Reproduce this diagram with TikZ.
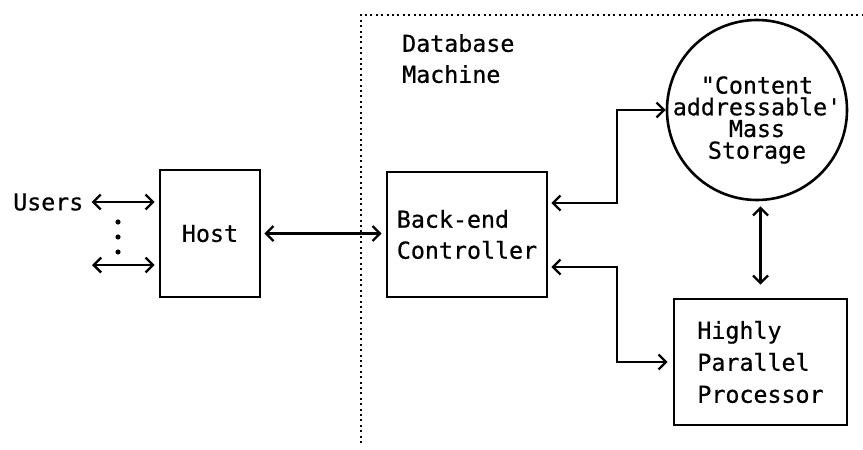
\documentclass[tikz,border=0pt]{standalone}
\usepackage{fontspec}
\setmonofont[FakeBold=0.6]{DejaVu Sans Mono}
\usetikzlibrary{arrows.meta,calc}
\begin{document}
\begin{tikzpicture}[x=1pt,y=-1pt,
  lbl/.style={font=\ttfamily\fontsize{23.3}{31}\selectfont, inner sep=0pt},
  box/.style={draw, line width=2.6pt, inner sep=0pt},
  link/.style={line width=2.4pt, {Straight Barb[length=7.5pt,width=15pt]}-{Straight Barb[length=7.5pt,width=15pt]}},
  frame/.style={line width=2.2pt, dash pattern=on 2pt off 3.4pt}
]
\useasboundingbox (0,0) rectangle (863,450);

% dotted frame of the database machine
\draw[frame] (361,443) -- (361,15) -- (863,15);

% nodes
\node[box, lbl, minimum width=100pt, minimum height=127pt] (host) at (210,233.5) {Host};
\node[box, lbl, minimum width=160pt, minimum height=125pt, align=left] (back) at (467,234.5) {Back-end\\Controller};
\node[box, lbl, font=\ttfamily\fontsize{23.3}{32}\selectfont, minimum width=173pt, minimum height=126pt, align=left] (hpp) at (760.5,362) {Highly\\Parallel\\Processor};
\node[draw, circle, line width=2.6pt, minimum size=180pt, inner sep=0pt] (store) at (757,110) {};
\node[lbl, font=\ttfamily\fontsize{23.3}{21.7}\selectfont, align=center] (storetext) at (757,120) {"Content\\addressable'\\Mass\\Storage};
\node[lbl, align=left, anchor=west] (dbm) at (402,58.6) {Database\\Machine};
\node[lbl, anchor=west] (users) at (13,202) {Users};

% connectors
\coordinate (u2) at (92,265);
\coordinate (jx) at (617,0);
\draw[link, shorten <=8pt, shorten >=4pt] (users.east) -- (users.east -| host.west);
\draw[link, shorten >=4pt] (u2) -- (u2 -| host.west);
\fill (118,222) circle (2.6pt);
\fill (118,237) circle (2.6pt);
\fill (118,252) circle (2.6pt);

\draw[link, shorten <=3pt, shorten >=4pt] (host.east) -- (host.east -| back.west);
\draw[link, shorten <=3pt] ([yshift=31.5pt]back.east) -- ([yshift=31.5pt]back.east -| jx) |- (store.west);
\draw[link, shorten <=3pt, shorten >=5pt] ([yshift=-32.5pt]back.east) -- ([yshift=-32.5pt]back.east -| jx) |- (hpp.west);
\draw[link, shorten <=5pt, shorten >=13pt] (hpp.north |- store.south) -- (hpp.north);
\end{tikzpicture}
\end{document}
